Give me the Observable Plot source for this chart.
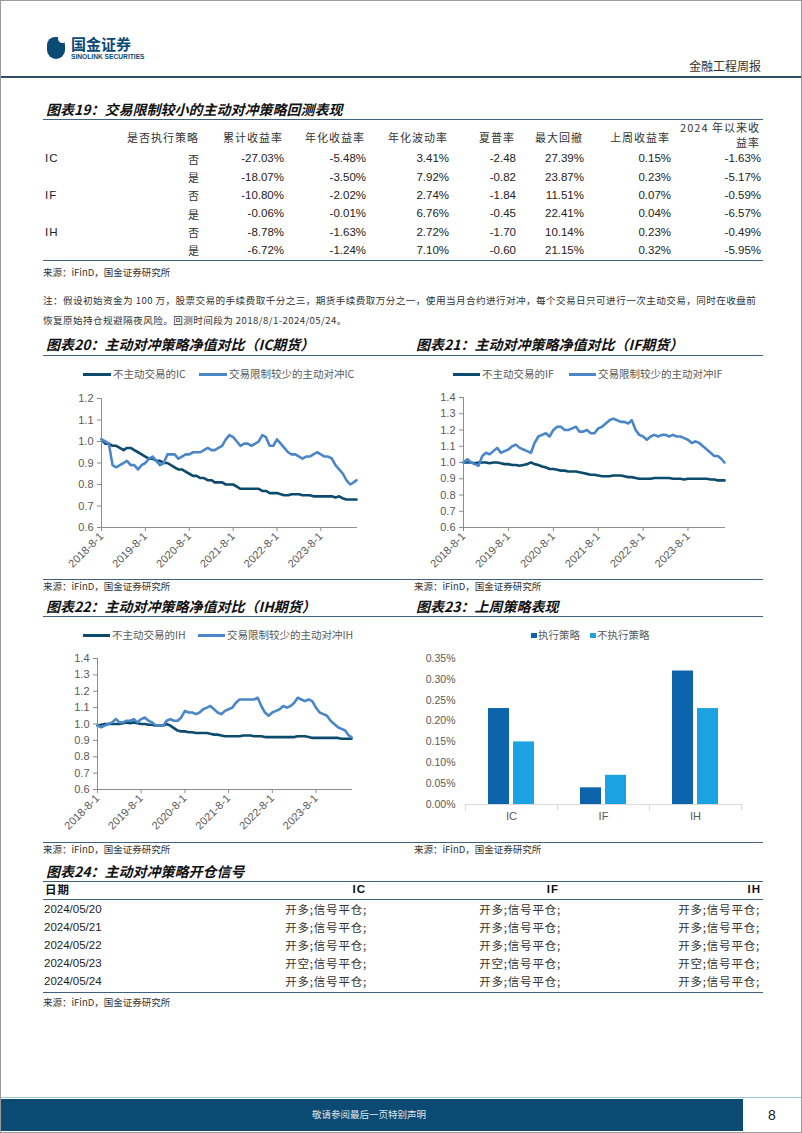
<!DOCTYPE html>
<html><head><meta charset="utf-8">
<script src="https://cdn.jsdelivr.net/npm/d3@7"></script>
<script src="https://cdn.jsdelivr.net/npm/@observablehq/plot@0.6"></script>
<style>
html,body{margin:0;padding:0;background:#fff;}
#page{position:relative;width:802px;height:1133px;overflow:hidden;font-family:"Liberation Sans","Noto Sans CJK SC",sans-serif;color:#222;box-sizing:border-box;border:1px solid #9a9a9a;}
.abs{position:absolute;white-space:nowrap;}
.hl{position:absolute;height:0;}
.chart{position:absolute;}
.chart svg{overflow:visible;}
</style>
</head><body><div id="page"></div>
<script>
// ---------- DATA ----------
const months = [
 "2018-08-01","2018-09-01","2018-10-01","2018-11-01","2018-12-01",
 "2019-01-01","2019-02-01","2019-03-01","2019-04-01","2019-05-01","2019-06-01","2019-07-01","2019-08-01","2019-09-01","2019-10-01","2019-11-01","2019-12-01",
 "2020-01-01","2020-02-01","2020-03-01","2020-04-01","2020-05-01","2020-06-01","2020-07-01","2020-08-01","2020-09-01","2020-10-01","2020-11-01","2020-12-01",
 "2021-01-01","2021-02-01","2021-03-01","2021-04-01","2021-05-01","2021-06-01","2021-07-01","2021-08-01","2021-09-01","2021-10-01","2021-11-01","2021-12-01",
 "2022-01-01","2022-02-01","2022-03-01","2022-04-01","2022-05-01","2022-06-01","2022-07-01","2022-08-01","2022-09-01","2022-10-01","2022-11-01","2022-12-01",
 "2023-01-01","2023-02-01","2023-03-01","2023-04-01","2023-05-01","2023-06-01","2023-07-01","2023-08-01","2023-09-01","2023-10-01","2023-11-01","2023-12-01",
 "2024-01-01","2024-02-01","2024-03-01","2024-04-01","2024-05-01","2024-05-24"];

const icPassive = [1.01,0.99,0.99,0.98,0.98,0.97,0.96,0.97,0.97,0.96,
 0.95,0.94,0.93,0.92,0.92,0.91,0.91,0.90,0.90,0.89,
 0.88,0.87,0.87,0.86,0.85,0.84,0.84,0.83,0.83,0.82,
 0.82,0.81,0.81,0.81,0.80,0.80,0.80,0.79,0.78,0.78,
 0.78,0.78,0.78,0.78,0.77,0.77,0.76,0.76,0.76,0.755,
 0.75,0.75,0.755,0.755,0.755,0.75,0.75,0.75,0.745,0.745,
 0.745,0.745,0.745,0.745,0.74,0.745,0.735,0.73,0.73,0.73,0.73];
const icActive = [1.01,1.00,0.99,0.89,0.88,0.89,0.90,0.91,0.89,0.89,
 0.87,0.89,0.90,0.92,0.93,0.91,0.89,0.90,0.94,0.94,
 0.94,0.92,0.93,0.94,0.94,0.95,0.95,0.95,0.96,0.97,
 0.96,0.96,0.97,0.98,1.01,1.03,1.02,1.00,0.98,0.99,
 0.99,0.98,0.99,1.00,1.03,1.02,0.98,0.98,1.01,0.99,
 0.97,0.95,0.94,0.94,0.93,0.92,0.93,0.93,0.94,0.95,
 0.94,0.93,0.93,0.92,0.89,0.87,0.85,0.82,0.80,0.81,0.82];
const ifPassive = [1.00,1.00,1.00,0.995,1.00,1.00,1.00,0.995,1.00,1.00,
 0.995,0.99,0.99,0.985,0.985,0.98,0.985,0.99,1.00,0.99,
 0.985,0.975,0.97,0.96,0.96,0.955,0.95,0.95,0.945,0.945,
 0.945,0.94,0.935,0.93,0.925,0.925,0.92,0.915,0.915,0.915,
 0.92,0.92,0.92,0.915,0.91,0.91,0.905,0.90,0.90,0.90,
 0.90,0.905,0.905,0.905,0.905,0.905,0.90,0.90,0.90,0.895,
 0.90,0.90,0.90,0.90,0.90,0.90,0.895,0.895,0.89,0.89,0.89];
const ifActive = [1.00,1.02,1.00,0.99,0.98,1.04,1.06,1.05,1.07,1.09,
 1.06,1.07,1.08,1.10,1.11,1.09,1.08,1.07,1.06,1.12,
 1.16,1.17,1.18,1.16,1.20,1.22,1.22,1.20,1.20,1.21,
 1.22,1.19,1.19,1.20,1.18,1.18,1.21,1.22,1.24,1.26,
 1.27,1.26,1.25,1.25,1.24,1.26,1.20,1.17,1.16,1.14,
 1.16,1.17,1.16,1.17,1.17,1.16,1.17,1.16,1.16,1.15,
 1.14,1.12,1.13,1.12,1.10,1.08,1.06,1.04,1.04,1.02,1.00];
const ihPassive = [0.99,0.995,1.00,1.00,1.00,1.00,1.00,1.005,1.01,1.005,
 1.01,1.005,1.00,1.00,0.995,0.995,0.99,0.99,0.99,1.00,
 0.99,0.975,0.96,0.955,0.955,0.95,0.95,0.945,0.945,0.945,
 0.945,0.94,0.935,0.935,0.93,0.925,0.925,0.925,0.925,0.925,
 0.93,0.93,0.93,0.925,0.925,0.925,0.92,0.92,0.92,0.92,
 0.92,0.92,0.92,0.92,0.92,0.925,0.925,0.925,0.92,0.915,
 0.915,0.915,0.915,0.915,0.915,0.915,0.915,0.91,0.91,0.91,0.91];
const ihActive = [0.99,0.98,0.99,1.00,1.01,1.03,1.01,1.01,1.02,1.02,
 1.03,1.01,1.03,1.04,1.02,1.01,0.99,0.99,0.99,1.02,
 1.03,1.02,1.02,1.04,1.08,1.07,1.07,1.06,1.07,1.09,
 1.10,1.11,1.09,1.07,1.06,1.08,1.09,1.10,1.13,1.15,
 1.15,1.15,1.15,1.15,1.16,1.11,1.07,1.05,1.07,1.08,
 1.09,1.11,1.10,1.11,1.13,1.16,1.15,1.14,1.15,1.14,
 1.10,1.07,1.06,1.05,1.02,1.00,0.98,0.97,0.96,0.93,0.92];

const xTicks = ["2018-08-01","2019-08-01","2020-08-01","2021-08-01","2022-08-01","2023-08-01"];
const xTickLabels = ["2018-8-1","2019-8-1","2020-8-1","2021-8-1","2022-8-1","2023-8-1"];
const yTicksIC = [0.6,0.7,0.8,0.9,1.0,1.1,1.2];
const yTicksIF = [0.6,0.7,0.8,0.9,1.0,1.1,1.2,1.3,1.4];

const barCats = ["IC","IF","IH"];
const barSeries = ["执行策略","不执行策略"];
const barExec = [0.23,0.04,0.32];
const barNoExec = [0.15,0.07,0.23];
const barYTicks = [0,0.05,0.10,0.15,0.20,0.25,0.30,0.35];

const t19Head = ["是否执行策略","累计收益率","年化收益率","年化波动率","夏普率","最大回撤","上周收益率"];
const t19Head8 = ["2024 年以来收","益率"];
const t19Contract = ["IC","","IF","","IH",""];
const t19Exec = ["否","是","否","是","否","是"];
const t19Cum = ["-27.03%","-18.07%","-10.80%","-0.06%","-8.78%","-6.72%"];
const t19Ann = ["-5.48%","-3.50%","-2.02%","-0.01%","-1.63%","-1.24%"];
const t19Vol = ["3.41%","7.92%","2.74%","6.76%","2.72%","7.10%"];
const t19Sharpe = ["-2.48","-0.82","-1.84","-0.45","-1.70","-0.60"];
const t19MDD = ["27.39%","23.87%","11.51%","22.41%","10.14%","21.15%"];
const t19Week = ["0.15%","0.23%","0.07%","0.04%","0.23%","0.32%"];
const t19YTD = ["-1.63%","-5.17%","-0.59%","-6.57%","-0.49%","-5.95%"];

const t24Head = ["日期","IC","IF","IH"];
const t24Dates = ["2024/05/20","2024/05/21","2024/05/22","2024/05/23","2024/05/24"];
const t24IC = ["开多;信号平仓;","开多;信号平仓;","开多;信号平仓;","开空;信号平仓;","开多;信号平仓;"];
const t24IF = ["开多;信号平仓;","开多;信号平仓;","开多;信号平仓;","开空;信号平仓;","开多;信号平仓;"];
const t24IH = ["开多;信号平仓;","开多;信号平仓;","开多;信号平仓;","开空;信号平仓;","开多;信号平仓;"];

// ---------- HELPERS ----------
const page = document.getElementById("page");
const CJK = '"Noto Sans CJK SC","Liberation Sans",sans-serif';
const LAT = '"Liberation Sans","Noto Sans CJK SC",sans-serif';
const SEC = "#41627f";
function put(text, x, y, o = {}) {
  const size = o.size || 11;
  const d = document.createElement("div");
  d.className = "abs";
  d.textContent = text;
  d.style.left = x + "px";
  d.style.top = (y - size * 0.6) + "px";
  d.style.lineHeight = (size * 1.2) + "px";
  d.style.fontSize = size + "px";
  d.style.fontFamily = o.family || LAT;
  if (o.weight) d.style.fontWeight = o.weight;
  if (o.italic) d.style.fontStyle = "italic";
  d.style.color = o.color || "#222";
  if (o.spacing) d.style.letterSpacing = o.spacing + "px";
  let tf = "";
  if (o.align === "right") tf = "translateX(-100%)";
  if (o.align === "center") tf = "translateX(-50%)";
  if (o.scaleX) { tf += ` scaleX(${o.scaleX})`; d.style.transformOrigin = "left center"; }
  if (tf) d.style.transform = tf;
  page.appendChild(d);
  return d;
}
function hline(x1, x2, y, color = SEC, w = 1.5) {
  const d = document.createElement("div");
  d.className = "hl";
  d.style.left = x1 + "px"; d.style.width = (x2 - x1) + "px";
  d.style.top = (y - w / 2) + "px";
  d.style.borderTop = `${w}px solid ${color}`;
  page.appendChild(d);
}
function box(x, y, w, h, bg) {
  const d = document.createElement("div");
  d.className = "abs";
  Object.assign(d.style, {left: x + "px", top: y + "px", width: w + "px", height: h + "px", background: bg});
  page.appendChild(d);
  return d;
}
function title(text, x, y) {
  put(text, x, y, {size: 14, family: CJK, weight: 700, italic: true, color: "#111"});
}
function source(x, y) {
  put("来源：iFinD，国金证券研究所", x, y, {size: 9.5, family: CJK, color: "#333"});
}

// ---------- HEADER ----------
const logo = box(46, 36, 18, 22, "#0b4a75");
logo.style.borderRadius = "9px 9px 10px 10px";
const notch = box(57, 33, 9, 9, "#fff"); notch.style.borderRadius = "50%";
put("国金证券", 70, 43, {size: 15, family: CJK, weight: 700, color: "#0b4a75"});
put("SINOLINK SECURITIES", 70, 56, {size: 7, weight: 700, color: "#0b4a75", scaleX: 0.95});
put("金融工程周报", 760, 65, {size: 12, family: CJK, color: "#333", align: "right"});
hline(0, 802, 75.5, "#2f4d66", 2);

// ---------- TABLE 19 ----------
title("图表19：交易限制较小的主动对冲策略回测表现", 45, 108);
hline(42, 762, 119);
const t19Right = [198, 282, 364, 447, 514, 582, 669];
t19Head.forEach((h, i) => put(h, t19Right[i], 136.5, {size: 11, family: CJK, color: "#333", align: "right", spacing: 1}));
put(t19Head8[0], 759, 126.5, {size: 11, family: CJK, color: "#333", align: "right", spacing: 1});
put(t19Head8[1], 759, 141.5, {size: 11, family: CJK, color: "#333", align: "right", spacing: 1});
const rowY = [158.3, 176.7, 195, 213.3, 231.7, 250];
const cols19 = [t19Cum, t19Ann, t19Vol, t19Sharpe, t19MDD, t19Week];
rowY.forEach((y, r) => {
  put(t19Contract[r], 44, y, {size: 11.5, color: "#222", spacing: 1});
  put(t19Exec[r], 198, y, {size: 11, family: CJK, color: "#333", align: "right"});
  cols19.forEach((c, ci) => put(c[r], t19Right[ci + 1] + 1, y, {size: 11.5, color: "#222", align: "right"}));
  put(t19YTD[r], 760, y, {size: 11.5, color: "#222", align: "right"});
});
hline(42, 762, 259.5);
source(42, 272);
put("注：假设初始资金为 100 万，股票交易的手续费取千分之三，期货手续费取万分之一，使用当月合约进行对冲，每个交易日只可进行一次主动交易，同时在收盘前", 42, 299.5, {size: 9.6, family: CJK, color: "#333", spacing: 0.42});
put("恢复原始持仓规避隔夜风险。回测时间段为 2018/8/1-2024/05/24。", 42, 320, {size: 9.6, family: CJK, color: "#333", spacing: 0.42});

// ---------- LINE CHARTS ----------
const DARK = "#0d4b6e", LIGHT = "#4a86c8";
function toRows(vals) { return months.map((m, i) => ({date: new Date(m), value: vals[i]})); }
function legend(y, items) {
  items.forEach(([lx, tx, label, color]) => {
    box(lx, y - 1.5, tx - lx - 2, 3, color);
    put(label, tx, y, {size: 10.5, family: CJK, color: "#595959"});
  });
}
function lineChart({left, top, width, height, ml, mr, mt, mb, yTicks, passive, active}) {
  const svg = Plot.plot({
    width, height, marginLeft: ml, marginRight: mr, marginTop: mt, marginBottom: mb,
    style: {fontFamily: LAT, fontSize: "11px", color: "#595959", background: "transparent", overflow: "visible"},
    x: {type: "utc", domain: [new Date(months[0]), new Date(months[months.length - 1])]},
    y: {domain: [yTicks[0], yTicks[yTicks.length - 1]]},
    marks: [
      Plot.axisY({ticks: yTicks, tickFormat: d => d.toFixed(1), tickSize: 4, tickPadding: 4, stroke: "#8c8c8c", label: null, fontSize: 11}),
      Plot.axisX({ticks: xTicks.map(d => new Date(d)), tickFormat: (d, i) => xTickLabels[i], tickRotate: -45, tickSize: 4, tickPadding: 3, stroke: "#8c8c8c", label: null, fontSize: 11}),
      Plot.line(toRows(passive), {x: "date", y: "value", stroke: DARK, strokeWidth: 2.6}),
      Plot.line(toRows(active), {x: "date", y: "value", stroke: LIGHT, strokeWidth: 2.6}),
      Plot.frame({anchor: "left", stroke: "#8c8c8c"}),
      Plot.frame({anchor: "bottom", stroke: "#8c8c8c"})
    ]
  });
  const d = document.createElement("div");
  d.className = "chart";
  d.style.left = left + "px"; d.style.top = top + "px";
  d.appendChild(svg);
  page.appendChild(d);
}

// Chart 20 / 21
title("图表20：主动对冲策略净值对比（IC期货）", 45, 343);
title("图表21：主动对冲策略净值对比（IF期货）", 415, 343);
hline(42, 762, 354.5);
legend(373, [[82, 112, "不主动交易的IC", DARK], [198, 228, "交易限制较少的主动对冲IC", LIGHT]]);
lineChart({left: 42, top: 385, width: 360, height: 187, ml: 58, mr: 47, mt: 12, mb: 46, yTicks: yTicksIC, passive: icPassive, active: icActive});
legend(373, [[452, 481, "不主动交易的IF", DARK], [568, 597, "交易限制较少的主动对冲IF", LIGHT]]);
lineChart({left: 412, top: 385, width: 360, height: 187, ml: 50, mr: 49, mt: 11, mb: 46, yTicks: yTicksIF, passive: ifPassive, active: ifActive});
hline(42, 762, 578.5);
source(42, 586);
source(413, 586);

// Chart 22 / 23
title("图表22：主动对冲策略净值对比（IH期货）", 45, 605);
title("图表23：上周策略表现", 415, 605);
hline(42, 762, 616);
legend(634.5, [[82, 111, "不主动交易的IH", DARK], [197, 226, "交易限制较少的主动对冲IH", LIGHT]]);
lineChart({left: 42, top: 645, width: 360, height: 191, ml: 54, mr: 52, mt: 12, mb: 48, yTicks: yTicksIF, passive: ihPassive, active: ihActive});

// Bar chart
const BDARK = "#0e63ad", BLIGHT = "#1ba2e3";
box(530, 631.5, 5.5, 5.5, BDARK);
put(barSeries[0], 537, 634.5, {size: 10.5, family: CJK, color: "#595959"});
box(589, 631.5, 5.5, 5.5, BLIGHT);
put(barSeries[1], 596, 634.5, {size: 10.5, family: CJK, color: "#595959"});
const barData = barCats.flatMap((c, i) => [
  {cat: c, series: barSeries[0], value: barExec[i]},
  {cat: c, series: barSeries[1], value: barNoExec[i]}
]);
const bH = 185, bMt = 12, bMb = 27;
const barSvg = Plot.plot({
  width: 360, height: bH, marginLeft: 51, marginRight: 32, marginTop: bMt, marginBottom: bMb,
  style: {fontFamily: LAT, fontSize: "10.5px", color: "#595959", background: "transparent", overflow: "visible"},
  fx: {domain: barCats, padding: 0, label: null},
  x: {domain: barSeries, paddingInner: 0.16, paddingOuter: 0.87, axis: null},
  y: {domain: [0, 0.35], axis: null},
  color: {domain: barSeries, range: [BDARK, BLIGHT]},
  marks: [
    Plot.axisY({ticks: barYTicks, tickFormat: d => d.toFixed(2) + "%", tickSize: 0, tickPadding: 10, label: null, fontSize: 10.5}),
    Plot.barY(barData, {fx: "cat", x: "series", y: "value", fill: "series"}),
    Plot.ruleY([0], {stroke: "#d9d9d9", strokeWidth: 1.2}),
    Plot.frame({anchor: "left", stroke: "#d9d9d9", insetTop: bH - bMt - bMb, insetBottom: -5}),
    Plot.frame({anchor: "right", stroke: "#d9d9d9", insetTop: bH - bMt - bMb, insetBottom: -5}),
    Plot.axisFx({anchor: "bottom", tickSize: 0, tickPadding: 8, label: null, fontSize: 11})
  ]
});
const bd = document.createElement("div");
bd.className = "chart"; bd.style.left = "412px"; bd.style.top = "645px";
bd.appendChild(barSvg); page.appendChild(bd);

hline(42, 762, 842);
source(42, 849);
source(413, 849);

// ---------- TABLE 24 ----------
title("图表24：主动对冲策略开仓信号", 45, 870);
hline(42, 762, 880.5);
put(t24Head[0], 44, 889, {size: 11.5, family: CJK, weight: 700, color: "#111", spacing: 1});
put(t24Head[1], 365, 889, {size: 11.5, weight: 700, color: "#111", align: "right", spacing: 1});
put(t24Head[2], 558, 889, {size: 11.5, weight: 700, color: "#111", align: "right", spacing: 1});
put(t24Head[3], 760, 889, {size: 11.5, weight: 700, color: "#111", align: "right", spacing: 1});
hline(42, 762, 898.5);
const r24 = [908.5, 926.5, 944.5, 962.5, 980.5];
r24.forEach((y, i) => {
  put(t24Dates[i], 43, y, {size: 11.5, color: "#222"});
  put(t24IC[i], 366, y, {size: 11.5, family: CJK, color: "#333", align: "right", spacing: 0.8});
  put(t24IF[i], 560, y, {size: 11.5, family: CJK, color: "#333", align: "right", spacing: 0.8});
  put(t24IH[i], 759, y, {size: 11.5, family: CJK, color: "#333", align: "right", spacing: 0.8});
});
hline(42, 762, 991.5);
source(42, 1002);

// ---------- FOOTER ----------
hline(0, 802, 1097, "#9cc3d8", 1.5);
box(0, 1098, 742, 32, "#0b4a72");
put("敬请参阅最后一页特别声明", 368, 1114, {size: 9.5, family: CJK, color: "#dfe8ef", align: "center"});
put("8", 771, 1114, {size: 14, color: "#222", align: "center"});
</script>
</body></html>
